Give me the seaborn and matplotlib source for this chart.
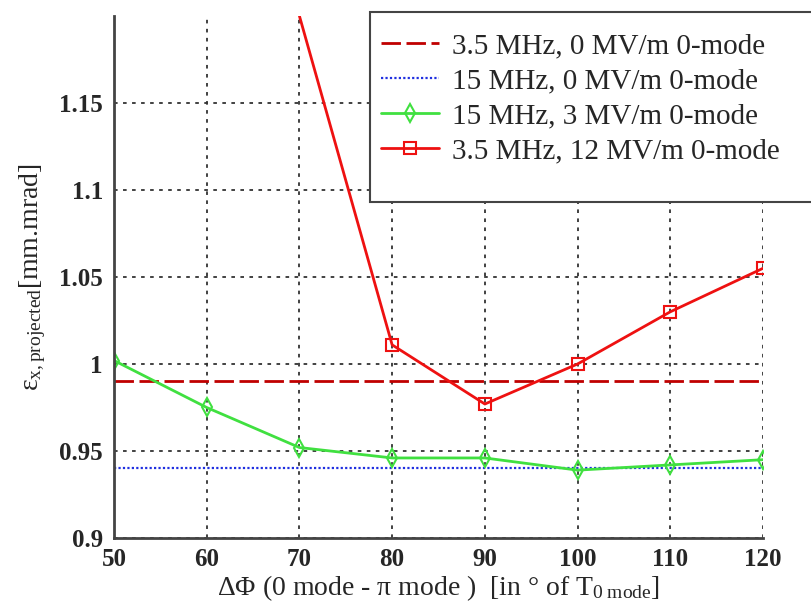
import matplotlib
matplotlib.use("Agg")
import matplotlib.pyplot as plt
import seaborn as sns
import pandas as pd
from matplotlib.patches import Rectangle

# Data
phase = [50, 60, 70, 80, 90, 100, 110, 120]
ref_35_0 = [0.990] * 8
ref_15_0 = [0.940] * 8
green_15_3 = [1.002, 0.975, 0.952, 0.946, 0.946, 0.939, 0.942, 0.945]
red_35_12 = [1.200, 1.011, 0.977, 1.000, 1.030, 1.055]
red_phase = [70, 80, 90, 100, 110, 120]
labels = ["3.5 MHz, 0 MV/m 0-mode", "15 MHz, 0 MV/m 0-mode",
          "15 MHz, 3 MV/m 0-mode", "3.5 MHz, 12 MV/m 0-mode"]
yticks = [0.9, 0.95, 1.0, 1.05, 1.1, 1.15]
ytick_labels = ["0.9", "0.95", "1", "1.05", "1.1", "1.15"]
xticks = [50, 60, 70, 80, 90, 100, 110, 120]

sns.set_style("white")
plt.rcParams["font.family"] = ["Liberation Serif", "DejaVu Serif"]
plt.rcParams["mathtext.fontset"] = "custom"
plt.rcParams["mathtext.rm"] = "Liberation Serif"
plt.rcParams["mathtext.it"] = "Liberation Serif:italic"

fig = plt.figure(figsize=(8.12, 6.10), dpi=100)
ax = fig.add_axes([114/812, 1 - 538/610, (763-114)/812, (538-16)/610])

df_g = pd.DataFrame({"x": phase, "y": green_15_3})
df_r = pd.DataFrame({"x": red_phase, "y": red_35_12})

l1, = ax.plot(phase, ref_35_0, color="#c00000", lw=2.0, dashes=(7, 2), label=labels[0])
l2, = ax.plot(phase, ref_15_0, color="#2030e0", lw=1.6, ls=(0, (1, 1)), label=labels[1])
sns.lineplot(data=df_g, x="x", y="y", ax=ax, color="#40e040", lw=2.0,
             marker="d", markersize=9, markerfacecolor="none",
             markeredgecolor="#40e040", markeredgewidth=1.5, label=labels[2])
sns.lineplot(data=df_r, x="x", y="y", ax=ax, color="#ee1111", lw=2.0,
             marker="s", markersize=8, markerfacecolor="none",
             markeredgecolor="#ee1111", markeredgewidth=1.5,
             markevery=slice(1, None), label=labels[3])

ax.set_xlim(50, 120)
ax.set_ylim(0.9, 1.2)
ax.set_xticks(xticks)
ax.set_xticklabels([str(v) for v in xticks])
ax.set_yticks(yticks)
ax.set_yticklabels(ytick_labels)
ax.tick_params(axis="y", labelsize=18, length=0, pad=8)
ax.tick_params(axis="x", labelsize=18, length=0, pad=7)
for lab in ax.get_xticklabels() + ax.get_yticklabels():
    lab.set_fontweight("bold")
ax.grid(True, color="#333333", ls=(0, (2, 3)), lw=1.3)
for s in ["top", "right"]:
    ax.spines[s].set_visible(False)
for s in ["left", "bottom"]:
    ax.spines[s].set_color("#444444")
    ax.spines[s].set_linewidth(2)

ax.set_xlabel("ΔΦ (0 mode - π mode )  [in ° of T$_{\\mathrm{0\\ mode}}$]",
              fontsize=20, labelpad=2)
ax.set_ylabel("ε$_{\\mathrm{x,projected}}$[mm.mrad]", fontsize=20, labelpad=8)

handles, _ = ax.get_legend_handles_labels()
leg = ax.legend(handles, labels, loc="upper left", frameon=False,
                bbox_to_anchor=(369/812, 1 - 21/610), bbox_transform=fig.transFigure,
                fontsize=21, handlelength=2.0, handletextpad=0.45, labelspacing=0.3,
                borderaxespad=0)
rect = Rectangle((370/812, 1 - 202/610), 500/812, (202-12)/610, transform=fig.transFigure,
                 facecolor="white", edgecolor="#444444", lw=1.5, zorder=2.5)
fig.patches.append(rect)
leg.set_zorder(3)
ax.set_zorder(1)
ax.patch.set_visible(False)
fig.add_artist(leg)

fig.savefig("out.png", dpi=100)
